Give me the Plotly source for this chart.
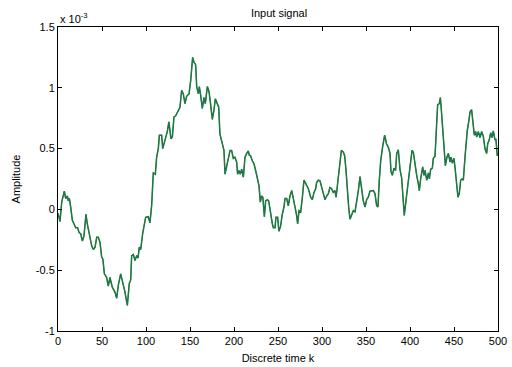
import plotly.graph_objects as go

# Discrete time index k and amplitude in units of 1e-3
k = [0, 1.1, 2.3, 4.2, 6, 7.2, 8.7, 10.6, 11.7, 12.9,
     14.4, 16.3, 18.2, 20.1, 22.3, 23.9, 25.8, 27.7, 29.5, 30.7,
     31.8, 33.3, 35.2, 37.1, 38.3, 40.2, 42.1, 44, 45.8, 47.7,
     48.9,
     49.6, 51, 52.7, 55.3, 57.2, 59, 61.7, 64.7, 66.7, 68.6,
     71.2, 73.5, 75.8, 78.8, 81, 82.6, 83.7, 85.6, 87.5, 89.5,
     91, 92.4, 94, 96.2, 97.7, 99.6, 102.6, 104.5, 106.4, 108.3,
     110.6, 112.1, 114, 115.2, 117.8, 119, 121.6, 124.2, 126, 128.4,
     130, 131.8, 133.7, 135.6, 137.5, 138.6, 140.5, 142.4, 144.3, 146.2,
     148.9, 150.8, 153, 154.5, 156.4, 157.6, 159.5, 160.6, 162.1, 164,
     165.9, 167.4, 169.7, 171.6, 173.5, 175.4, 177.3, 178.8, 181, 182.6,
     184, 185.6, 188.6, 189.8, 191.7, 193.6, 195.5, 197.3, 199.2, 201,
     203, 204.1, 205.6, 207.1, 208.7, 210.6, 212.5, 214.4, 216.3, 217.4,
     218.9, 220.8, 222.7, 224.6, 226.5, 228.4, 229.9, 231.4, 232.8, 234.5,
     236, 237.9, 239.4, 240.9, 242, 243.6, 244.7,
     246.6, 247.7, 249.6, 251, 252.9, 254.9, 256.8, 258, 259.9, 261.7,
     263.6, 265.6, 267.4, 269.3, 271.2, 272.3,
     273.9, 275.8, 277.7, 279.5, 281, 282.6, 284.5, 287.1, 289, 290.9, 292.8, 293.9, 295.8, 297.7, 299.7, 301.5, 303.4, 305.3, 307.2, 309,
     310.9, 312.8, 314.7, 316, 317.8, 319.3, 320.5, 322, 324.3, 325.8, 327.3, 328.8, 330.3, 331.8, 333.7, 335.6, 337.5, 339.4, 341.3, 343.2,
     345, 346.9, 348.9, 350.7, 352.6, 354.5, 358.3, 360.2, 362.1, 363.6, 365.1, 366.7, 369, 371.2, 373.3, 375.4, 377.3, 378.4, 379.9, 381.8,
     383.6, 384.9, 386.7, 388.6, 390.5, 392.4, 393.5, 395.4, 396.9, 398.9, 400.8, 402.3, 403.8, 405.7, 407.6, 409.5, 410.6, 412.1, 413.3, 414.4,
     415.9, 417.1, 419, 420.9, 422, 423.5, 425.4, 426.5, 428.4, 430.3, 431.4, 433.3, 434.5, 435.6, 437.1, 438.6, 440.2, 442, 443.6, 445.5,
     446.6, 448.1, 450, 451.5, 453, 454.5, 456, 457.6, 459.1, 460.6, 462.5, 463.6, 465.1, 466.7, 468.2, 470, 471.2, 473.1, 474.6, 475.8,
     477.7, 479.5, 481.4, 483.3, 485.2, 487.1, 488.3, 490, 491.7, 493.2, 494.7, 496.6, 497.6, 499.2, 500]

amp_e3 = [-0.03, -0.065, -0.10, 0.06, 0.13, 0.15, 0.09, 0.11, 0.07, 0.09,
          0.02, -0.09, -0.12, -0.15, -0.15, -0.19, -0.20, -0.26, -0.22, -0.12,
          -0.04, -0.12, -0.19, -0.27, -0.30, -0.33, -0.31, -0.23, -0.23, -0.27,
          -0.33,
          -0.39, -0.41, -0.53, -0.56, -0.63, -0.56, -0.64, -0.68, -0.73, -0.62,
          -0.53, -0.60, -0.67, -0.79, -0.61, -0.58, -0.38, -0.37, -0.42, -0.38,
          -0.40, -0.31, -0.33, -0.20, -0.15, -0.065, -0.06, -0.11, 0.03, 0.30,
          0.29, 0.43, 0.50, 0.61, 0.61, 0.50, 0.57, 0.64, 0.72, 0.58,
          0.60, 0.76, 0.77, 0.80, 0.82, 0.84, 0.98, 0.95, 0.87, 0.93,
          0.95, 1.06, 1.25, 1.21, 1.19, 1.01, 0.95, 1.01, 0.94, 0.83,
          0.92, 0.87, 1.01, 0.97, 0.86, 0.74, 0.82, 0.91, 0.87, 0.84,
          0.62, 0.57, 0.485, 0.29, 0.35, 0.43, 0.485, 0.485, 0.42, 0.43,
          0.39, 0.29, 0.32, 0.29, 0.33, 0.265, 0.43, 0.46, 0.48, 0.445,
          0.44, 0.40, 0.375, 0.32, 0.265, 0.195, 0.06, 0.11, 0.10, -0.06,
          0.07, 0.08, 0.07, -0.01, -0.065, -0.12, -0.15,
          -0.15, -0.065, -0.065, -0.18, -0.14, -0.04, 0.02, 0.09, 0.09, 0.03,
          0.11, 0.155, 0.10, 0.02, -0.05, -0.12,
          -0.01, -0.02, 0.10, 0.24, 0.22, 0.20, 0.17, 0.10, 0.08, 0.14, 0.17, 0.22, 0.24, 0.235, 0.18, 0.14, 0.08, 0.11, 0.13, 0.18,
          0.17, 0.14, 0.155, 0.10, 0.22, 0.35, 0.43, 0.485, 0.47, 0.44, 0.32, 0.155, 0.02, -0.08, -0.05, -0.01, -0.02, 0.06, 0.155, 0.27,
          0.155, 0.07, 0.02, 0.08, 0.10, 0.15, 0.155, 0.13, 0.03, 0.02, 0.24, 0.40, 0.52, 0.61, 0.54, 0.51, 0.46, 0.31, 0.28, 0.34,
          0.32, 0.46, 0.49, 0.33, 0.26, 0.07, -0.05, 0.07, 0.155, 0.28, 0.40, 0.485, 0.47, 0.35, 0.28, 0.21, 0.155, 0.25, 0.29, 0.35,
          0.28, 0.32, 0.24, 0.30, 0.25, 0.33, 0.34, 0.42, 0.435, 0.65, 0.86, 0.87, 0.92, 0.82, 0.65, 0.485, 0.36, 0.43, 0.46, 0.39,
          0.43, 0.38, 0.42, 0.32, 0.21, 0.10, 0.13, 0.24, 0.25, 0.24, 0.43, 0.54, 0.65, 0.72, 0.80, 0.82, 0.73, 0.61, 0.64, 0.595,
          0.64, 0.59, 0.64, 0.60, 0.50, 0.46, 0.54, 0.57, 0.63, 0.59, 0.645, 0.57, 0.58, 0.44, 0.46]

x_ticks = [0, 50, 100, 150, 200, 250, 300, 350, 400, 450, 500]
y_ticks = [-1, -0.5, 0, 0.5, 1, 1.5]
y_tick_text = ["-1", "-0.5", "0", "0.5", "1", "1.5"]

assert len(k) == len(amp_e3)

FONT = "Liberation Sans, Arial, sans-serif"

fig = go.Figure()
fig.add_trace(go.Scatter(x=k, y=amp_e3, mode="lines",
                         line=dict(color="#007a00", width=1.5), showlegend=False))
fig.add_trace(go.Scatter(x=k, y=amp_e3, mode="lines",
                         line=dict(color="#3a7088", width=0.7), showlegend=False))

axis_common = dict(showline=True, linecolor="black", linewidth=1, mirror="ticks",
                   ticks="inside", ticklen=4, tickcolor="black", showgrid=False,
                   zeroline=False, automargin=False,
                   tickfont=dict(family=FONT, size=11, color="black"))

fig.update_layout(
    template="none",
    width=512, height=367,
    margin=dict(l=58, r=14, t=27, b=36, autoexpand=False),
    paper_bgcolor="white", plot_bgcolor="white",
    font=dict(family=FONT, size=11, color="black"),
    title=dict(text="Input signal", x=0.545, xanchor="center", y=0.975, yanchor="top",
               font=dict(family=FONT, size=11, color="black")),
    xaxis=dict(range=[0, 500], tickvals=x_ticks,
               title=dict(text="Discrete time k", standoff=8,
                          font=dict(family=FONT, size=11, color="black")),
               **axis_common),
    yaxis=dict(range=[-1, 1.5], tickvals=y_ticks, ticktext=y_tick_text,
               title=dict(text="Amplitude", standoff=12,
                          font=dict(family=FONT, size=11, color="black")),
               **axis_common),
    annotations=[dict(text="x 10<sup>-3</sup>", xref="paper", yref="paper",
                      x=0, y=1.0, xanchor="left", yanchor="bottom", showarrow=False,
                      font=dict(family=FONT, size=11, color="black"))],
)

fig.write_html("out.html")
